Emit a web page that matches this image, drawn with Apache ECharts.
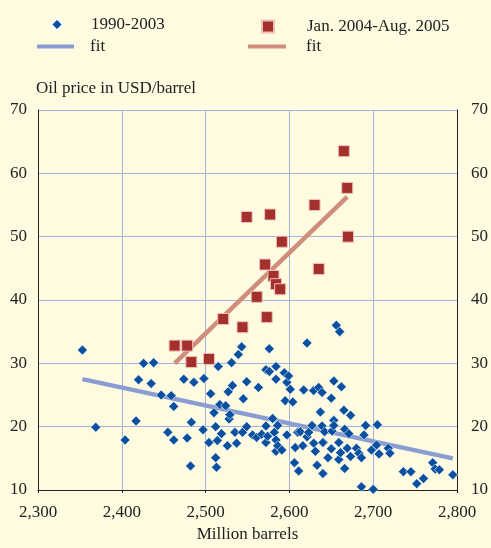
<!DOCTYPE html>
<html><head><meta charset="utf-8">
<script src="https://cdn.jsdelivr.net/npm/echarts@6/dist/echarts.min.js"></script>
<style>html,body{margin:0;padding:0;background:#fefbe1;}#c{width:491px;height:548px;}</style>
</head><body><div id="c"></div>
<script>
const xTicks = [2300, 2400, 2500, 2600, 2700, 2800];
const yTicks = [10, 20, 30, 40, 50, 60, 70];
const seriesNames = ['1990-2003', 'Jan. 2004-Aug. 2005'];
const yTitle = 'Oil price in USD/barrel';
const xTitle = 'Million barrels';
const period1 = [[2353,32.1],[2369,19.9],[2404,17.9],[2417,20.9],[2420,27.4],[2426,30.0],[2435,26.8],[2438,30.1],[2447,25.0],[2455,19.1],[2459,24.9],[2462,23.2],[2462,17.9],[2474,27.5],[2478,18.2],[2482,13.8],[2483,20.7],[2486,27.0],[2497,19.5],[2498,27.6],[2504,17.5],[2506,25.2],[2510,22.2],[2512,20.0],[2512,15.1],[2513,13.6],[2514,17.8],[2515,29.5],[2517,23.5],[2519,18.9],[2524,23.3],[2526,17.0],[2527,25.5],[2528,21.2],[2529,21.9],[2531,30.1],[2532,26.5],[2535,19.1],[2537,17.4],[2539,31.4],[2543,32.6],[2544,19.1],[2545,24.4],[2549,27.1],[2549,20.0],[2556,18.7],[2561,18.3],[2563,26.2],[2567,18.8],[2572,29.0],[2572,20.1],[2572,17.5],[2574,18.5],[2576,32.3],[2576,28.7],[2580,21.3],[2582,19.1],[2584,29.5],[2584,27.5],[2584,17.9],[2584,16.1],[2586,20.2],[2586,17.0],[2591,16.3],[2594,28.5],[2595,24.1],[2597,27.0],[2597,18.7],[2599,28.0],[2601,25.9],[2604,23.9],[2606,14.3],[2607,16.7],[2610,19.1],[2611,13.0],[2613,19.2],[2616,17.0],[2617,25.8],[2621,33.2],[2621,18.4],[2623,19.1],[2627,20.2],[2629,25.7],[2629,17.4],[2631,16.1],[2633,13.9],[2635,26.2],[2637,22.3],[2639,25.4],[2639,20.1],[2640,17.5],[2640,12.6],[2642,19.2],[2646,15.1],[2650,24.5],[2650,16.5],[2651,19.3],[2653,27.2],[2653,21.0],[2653,20.2],[2656,36.0],[2659,17.5],[2659,14.8],[2660,35.0],[2661,15.9],[2662,26.3],[2665,22.6],[2666,19.6],[2666,13.4],[2669,16.6],[2671,18.9],[2673,21.8],[2673,15.3],[2680,16.6],[2683,15.8],[2686,15.1],[2686,10.5],[2689,18.7],[2691,20.2],[2698,16.3],[2700,10.1],[2704,17.1],[2705,20.3],[2707,15.7],[2718,16.6],[2720,15.8],[2736,12.9],[2745,12.9],[2752,11.0],[2760,11.8],[2771,14.3],[2774,13.3],[2779,13.2],[2795,12.4]];
const period2 = [[2463,32.8],[2478,32.8],[2483,30.2],[2504,30.7],[2521,37.0],[2544,35.7],[2549,53.1],[2561,40.5],[2571,45.6],[2573,37.3],[2577,53.5],[2581,43.8],[2584,42.5],[2589,41.7],[2591,49.2],[2630,55.0],[2635,44.9],[2665,63.5],[2669,57.7],[2670,50.0]];
const fit1 = [[2353,27.5],[2795,15.0]];
const fit2 = [[2463,30.0],[2669,56.3]];

const FONT = 'Liberation Serif';
const chart = echarts.init(document.getElementById('c'));
const gridCol = '#a4b1da';
function legendText(pad) {
  return {fontFamily: FONT, fontSize: 17, color: '#222', padding: [0,0,0,pad]};
}
const legendBase = {
  orient: 'horizontal', padding: 0, selectedMode: false,
  formatter: n => n.startsWith('fit') ? 'fit' : n
};
const yAxisBase = {
  type: 'value', min: 10, max: 70, interval: 10,
  axisLine: {show: true, lineStyle: {color: '#222', width: 1}},
  axisTick: {show: false},
  axisLabel: {fontFamily: FONT, fontSize: 17, color: '#222', margin: 11,
    formatter: v => yTicks.includes(v) ? String(v) : ''}
};
chart.setOption({
  animation: false,
  backgroundColor: '#fefbe1',
  grid: {left: 38, right: 32, top: 110, bottom: 51},
  legend: [
    Object.assign({}, legendBase, {data: [{name: seriesNames[0], icon: 'diamond'}], left: 50, top: 16, itemWidth: 12, itemHeight: 12, textStyle: legendText(23)}),
    Object.assign({}, legendBase, {data: [{name: 'fit (1)', icon: 'rect'}], left: 37, top: 38, itemWidth: 37, itemHeight: 4, textStyle: legendText(11)}),
    Object.assign({}, legendBase, {data: [{name: seriesNames[1], icon: 'rect'}], left: 261, top: 18, itemWidth: 12, itemHeight: 12, textStyle: legendText(28)}),
    Object.assign({}, legendBase, {data: [{name: 'fit (2)', icon: 'rect'}], left: 248, top: 38, itemWidth: 38, itemHeight: 4, textStyle: legendText(15)})
  ],
  graphic: [{type: 'text', left: 36, top: 80, style: {text: yTitle, font: '17px "' + FONT + '"', fill: '#222'}}],
  xAxis: {
    type: 'value', min: 2300, max: 2800, interval: 100,
    name: xTitle, nameLocation: 'middle', nameGap: 36,
    nameTextStyle: {fontFamily: FONT, fontSize: 17, color: '#222'},
    axisLine: {show: true, lineStyle: {color: '#222', width: 1}},
    axisTick: {show: true, length: 3, lineStyle: {color: '#222'}},
    axisLabel: {fontFamily: FONT, fontSize: 17, color: '#222', margin: 14,
      formatter: v => xTicks.includes(v) ? v.toLocaleString('en-US') : ''},
    splitLine: {show: true, lineStyle: {color: gridCol, width: 1}}
  },
  yAxis: [
    Object.assign({}, yAxisBase, {position: 'left', splitLine: {show: true, lineStyle: {color: gridCol, width: 1}}}),
    Object.assign({}, yAxisBase, {position: 'right', splitLine: {show: false}, axisLabel: Object.assign({}, yAxisBase.axisLabel, {margin: 14})})
  ],
  series: [
    {name: 'fit (1)', type: 'line', data: fit1, symbol: 'none', lineStyle: {color: '#8a9dd3', width: 4.5}, itemStyle: {color: '#8a9dd3'}, z: 2},
    {name: 'fit (2)', type: 'line', data: fit2, symbol: 'none', lineStyle: {color: '#cf8e7b', width: 4.5}, itemStyle: {color: '#cf8e7b'}, z: 2},
    {name: seriesNames[0], type: 'scatter', data: period1, symbol: 'diamond', symbolSize: 10,
      itemStyle: {color: '#0a50a0', borderColor: '#ffffff', borderWidth: 0.6, opacity: 1}, z: 3},
    {name: seriesNames[1], type: 'scatter', data: period2, symbol: 'rect', symbolSize: 11,
      itemStyle: {color: '#a3302c', borderColor: '#f0c0b8', borderWidth: 1, opacity: 1}, z: 4}
  ]
});
</script></body></html>
